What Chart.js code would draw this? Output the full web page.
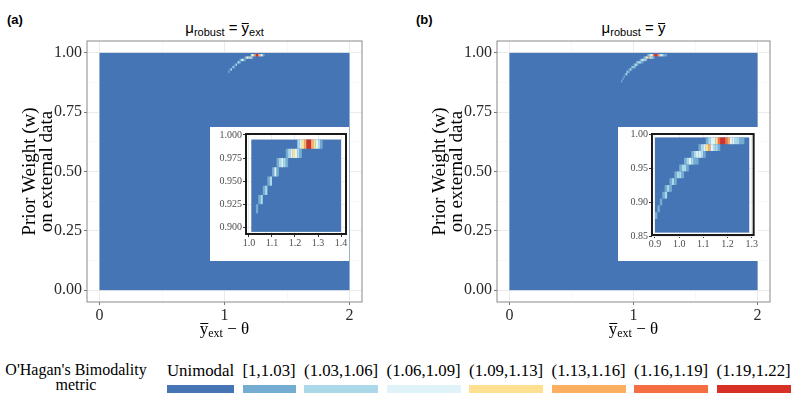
<!DOCTYPE html>
<html>
<head>
<meta charset="utf-8">
<script src="https://cdn.jsdelivr.net/npm/chart.js@4.4.0/dist/chart.umd.min.js"></script>
<style>
body { margin: 0; width: 793px; height: 396px; background: #fff; position: relative; overflow: hidden; font-family: "Liberation Serif", serif; }
canvas { position: absolute; display: block; }
.tag { position: absolute; font: bold 13px "Liberation Sans", Arial, sans-serif; }
.ptitle { position: absolute; top: 19px; font: 15px/18px "Liberation Sans", Arial, sans-serif; transform: translateX(-50%); white-space: nowrap; }
.ptitle sub { font-size: 11px; vertical-align: -3px; }
.ov { display: inline-block; border-top: 1px solid #000; line-height: 0.55em; }
.xt { position: absolute; top: 319px; font: 17px/20px "Liberation Serif", serif; transform: translateX(-50%); white-space: nowrap; }
.xt sub { font-size: 12px; vertical-align: -3px; }
#ltitle { position: absolute; left: 0; top: 362px; width: 152px; text-align: center; font: 16px/15px "Liberation Serif", serif; }
#keys { position: absolute; left: 167px; top: 363px; display: flex; gap: 8.4px; }
.key { display: flex; flex-direction: column; }
.key span { font: 16.8px/16px "Liberation Serif", serif; white-space: nowrap; }
.key i { display: block; height: 8px; margin-top: 6px; }
</style>
</head>
<body>
<div class="tag" style="left:7px; top:12px">(a)</div>
<div class="tag" style="left:416px; top:12px">(b)</div>
<div class="ptitle" style="left:224.5px">&mu;<sub>robust</sub> = <span class="ov">y</span><sub>ext</sub></div>
<div class="ptitle" style="left:633.5px">&mu;<sub>robust</sub> = <span class="ov">y</span></div>

<canvas id="mainA" width="380" height="330" style="left:0; top:0"></canvas>
<canvas id="mainB" width="378" height="330" style="left:410px; top:0"></canvas>
<canvas id="insetA" width="139" height="134" style="left:210px; top:127px"></canvas>
<canvas id="insetB" width="140" height="134" style="left:618px; top:127px"></canvas>

<div class="xt" style="left:224.5px"><span class="ov">y</span><sub>ext</sub> &minus; &theta;</div>
<div class="xt" style="left:633.5px"><span class="ov">y</span><sub>ext</sub> &minus; &theta;</div>

<div id="ltitle">O'Hagan's Bimodality<br>metric</div>
<div id="keys"></div>

<script>
// legend bins of O'Hagan's bimodality metric
const binLabels = ['Unimodal', '[1,1.03]', '(1.03,1.06]', '(1.06,1.09]', '(1.09,1.13]', '(1.13,1.16]', '(1.16,1.19]', '(1.19,1.22]'];
const binColors = ['#4575b4', '#74add1', '#abd9e9', '#e0f3f8', '#fee090', '#fdae61', '#f46d43', '#d73027'];

// grid resolution
const xStep = 0.01;
const wStep = 0.01;

// whole grid is unimodal except the cells listed per row below
const gridX = [0, 2];
const gridW = [0, 1];
const insetGridXA = [1.01, 1.40];
const insetGridWA = [0.895, 0.995];
const insetGridXB = [0.90, 1.29];
const insetGridWB = [0.855, 0.995];

// panel (a): mu_robust = ybar_ext
const wRowsA = [0.99, 0.98, 0.97, 0.96, 0.95, 0.94, 0.93, 0.92];
const xStartA = [1.21, 1.16, 1.12, 1.10, 1.08, 1.06, 1.04, 1.03];
const binsA = [
    [2, 3, 4, 5, 7, 7, 5, 4, 3, 2, 1],
    [1, 2, 3, 4, 3, 2, 1],
    [1, 2, 3, 2, 1],
    [1, 3, 1],
    [1, 2],
    [1, 2],
    [1, 2],
    [1]
];

// panel (b): mu_robust = ybar
const wRowsB = [0.99, 0.98, 0.97, 0.96, 0.95, 0.94, 0.93, 0.92, 0.91, 0.90, 0.89, 0.88];
const xStartB = [1.11, 1.08, 1.05, 1.02, 1.00, 0.98, 0.96, 0.94, 0.93, 0.92, 0.91, 0.90];
const binsB = [
    [1, 2, 3, 3, 4, 6, 7, 7, 6, 5, 3, 3, 2, 2, 1, 1],
    [1, 2, 3, 4, 5, 3, 2, 2, 1],
    [1, 2, 3, 3, 2, 1],
    [1, 2, 3, 2, 1, 1],
    [1, 2, 2, 1],
    [1, 2, 2, 1],
    [1, 2, 1],
    [1, 2, 1],
    [1, 2],
    [1],
    [1],
    [1]
];

// axis ticks
const mainXTicks = [0, 1, 2];
const mainXMinor = [0.5, 1.5];
const mainWTicks = [0, 0.25, 0.5, 0.75, 1];
const mainWMinor = [0.125, 0.375, 0.625, 0.875];
const insetXTicksA = [1.0, 1.1, 1.2, 1.3, 1.4];
const insetWTicksA = [0.9, 0.925, 0.95, 0.975, 1.0];
const insetXTicksB = [0.9, 1.0, 1.1, 1.2, 1.3];
const insetWTicksB = [0.85, 0.9, 0.95, 1.0];

function buildCells(extX, extW, wRows, xStart, bins) {
    const cells = [{ x0: extX[0], x1: extX[1], y0: extW[0], y1: extW[1], bin: 0 }];
    wRows.forEach((w, i) => {
        bins[i].forEach((b, j) => {
            const x0 = xStart[i] + j * xStep;
            cells.push({ x0: x0, x1: x0 + xStep, y0: w - wStep / 2, y1: w + wStep / 2, bin: b });
        });
    });
    return cells.map(c => Object.assign(c, { x: (c.x0 + c.x1) / 2, y: (c.y0 + c.y1) / 2 }));
}

const heatPlugin = {
    id: 'heat',
    beforeDatasetsDraw(chart) {
        const { ctx, chartArea: a, scales: { x, y } } = chart;
        ctx.save();
        ctx.beginPath();
        ctx.rect(a.left, a.top, a.width, a.height);
        ctx.clip();
        chart.data.datasets.forEach(ds => {
            ds.data.forEach(c => {
                const px0 = x.getPixelForValue(c.x0), px1 = x.getPixelForValue(c.x1);
                const py0 = y.getPixelForValue(c.y1), py1 = y.getPixelForValue(c.y0);
                ctx.fillStyle = binColors[c.bin];
                ctx.fillRect(px0, py0, px1 - px0, py1 - py0);
            });
        });
        ctx.restore();
    }
};

const bgPlugin = {
    id: 'bg',
    beforeDraw(chart, args, opts) {
        if (!opts.color) return;
        const ctx = chart.ctx;
        ctx.save();
        ctx.fillStyle = opts.color;
        ctx.fillRect(0, 0, chart.width, chart.height);
        ctx.restore();
    }
};

const framePlugin = {
    id: 'frame',
    afterDraw(chart, args, opts) {
        const { ctx, chartArea: a } = chart;
        ctx.save();
        ctx.strokeStyle = opts.color;
        ctx.lineWidth = opts.width;
        ctx.strokeRect(a.left, a.top, a.width, a.height);
        ctx.restore();
    }
};

function axis(o) {
    const all = o.major.concat(o.minor || []);
    const isMajor = v => o.major.includes(v);
    return {
        type: 'linear',
        min: o.min,
        max: o.max,
        afterBuildTicks: s => { s.ticks = all.slice().sort((a, b) => a - b).map(v => ({ value: v })); },
        afterFit: s => { if (o.horizontal) s.height = o.size; else s.width = o.size; },
        ticks: {
            autoSkip: false,
            maxRotation: 0,
            padding: o.pad,
            color: o.textColor,
            font: { family: 'Liberation Serif', size: o.fontSize },
            callback: v => isMajor(v) ? v.toFixed(o.digits) : ''
        },
        grid: {
            color: c => (c.tick && isMajor(c.tick.value)) ? '#ebebeb' : '#f3f3f3',
            lineWidth: c => (c.tick && isMajor(c.tick.value)) ? 1 : 0.6,
            tickColor: c => (c.tick && isMajor(c.tick.value)) ? o.tickColor : 'rgba(0,0,0,0)',
            tickLength: o.tickLength
        },
        border: { display: false },
        title: o.title || { display: false }
    };
}

function makePanel(canvasId, cells, o) {
    const ctx = document.getElementById(canvasId).getContext('2d');
    return new Chart(ctx, {
        type: 'scatter',
        data: { datasets: [{ data: cells, pointRadius: 0 }] },
        options: {
            responsive: false,
            animation: false,
            events: [],
            layout: { padding: o.padding },
            plugins: {
                legend: { display: false },
                tooltip: { enabled: false },
                bg: { color: o.bg },
                frame: o.frame
            },
            scales: { x: o.x, y: o.y }
        },
        plugins: [bgPlugin, heatPlugin, framePlugin]
    });
}

const yTitle = {
    display: true,
    text: ['Prior Weight (w)', 'on external data'],
    color: '#000',
    font: { family: 'Liberation Serif', size: 19, lineHeight: 0.9 },
    padding: { top: 21, bottom: 0 }
};

function mainOptions(padRight) {
    return {
        padding: { top: 41, right: padRight, bottom: 0, left: 0 },
        bg: null,
        frame: { color: '#8a8a8a', width: 1 },
        x: axis({ horizontal: true, size: 28, min: -0.1, max: 2.1, major: mainXTicks, minor: mainXMinor, digits: 0,
                  fontSize: 16, pad: 1, textColor: '#2b2b2b', tickColor: '#777', tickLength: 3 }),
        y: axis({ horizontal: false, size: 87, min: -0.05, max: 1.05, major: mainWTicks, minor: mainWMinor, digits: 2,
                  fontSize: 16, pad: 2, textColor: '#2b2b2b', tickColor: '#777', tickLength: 3, title: yTitle })
    };
}

makePanel('mainA', buildCells(gridX, gridW, wRowsA, xStartA, binsA), mainOptions(18));
makePanel('mainB', buildCells(gridX, gridW, wRowsB, xStartB, binsB), mainOptions(18));

makePanel('insetA', buildCells(insetGridXA, insetGridWA, wRowsA, xStartA, binsA), {
    padding: { top: 3, right: 3, bottom: 0, left: 0 },
    bg: '#fff',
    frame: { color: '#1a1a1a', width: 2 },
    x: axis({ horizontal: true, size: 27, min: 0.987, max: 1.4217, major: insetXTicksA, digits: 1,
              fontSize: 10, pad: 0, textColor: '#4d4d4d', tickColor: '#333', tickLength: 3 }),
    y: axis({ horizontal: false, size: 36, min: 0.8927, max: 1.001, major: insetWTicksA, digits: 3,
              fontSize: 10, pad: 1, textColor: '#4d4d4d', tickColor: '#333', tickLength: 3 })
});

makePanel('insetB', buildCells(insetGridXB, insetGridWB, wRowsB, xStartB, binsB), {
    padding: { top: 6, right: 4, bottom: 0, left: 0 },
    bg: '#fff',
    frame: { color: '#1a1a1a', width: 2 },
    x: axis({ horizontal: true, size: 26, min: 0.8876, max: 1.3082, major: insetXTicksB, digits: 1,
              fontSize: 10, pad: 0, textColor: '#4d4d4d', tickColor: '#333', tickLength: 3 }),
    y: axis({ horizontal: false, size: 34, min: 0.8515, max: 1.0, major: insetWTicksB, digits: 2,
              fontSize: 10, pad: 1, textColor: '#4d4d4d', tickColor: '#333', tickLength: 3 })
});

// legend keys
const keys = document.getElementById('keys');
binLabels.forEach((lab, i) => {
    const k = document.createElement('div');
    k.className = 'key';
    k.innerHTML = '<span>' + lab + '</span><i style="background:' + binColors[i] + '"></i>';
    keys.appendChild(k);
});
</script>
</body>
</html>
